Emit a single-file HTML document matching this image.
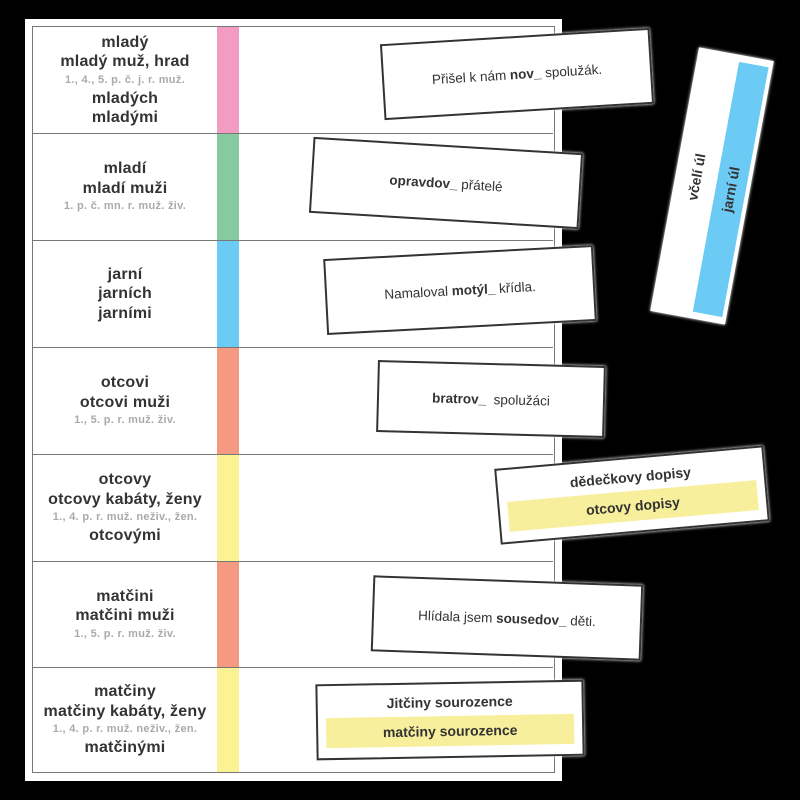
<!DOCTYPE html>
<html><head><meta charset="utf-8"><style>
body{margin:0;width:800px;height:800px;background:#000;position:relative;overflow:hidden;font-family:"Liberation Sans",Arial,sans-serif;}
.outer{position:absolute;left:25px;top:19px;width:537px;height:762px;background:#fff;}
.inner{position:absolute;left:32px;top:26px;width:523px;height:747px;border:1.5px solid #777;box-sizing:border-box;background:#fff;}
.row{position:absolute;left:0;width:520px;border-bottom:1.5px solid #777;box-sizing:border-box;}
.lbl{position:absolute;left:0;width:184px;top:0;bottom:0;display:flex;flex-direction:column;justify-content:center;align-items:center;text-align:center;color:#333;}
.b{font-weight:bold;font-size:16px;line-height:19.5px;letter-spacing:.2px}
.s{font-weight:bold;font-size:11px;line-height:17px;color:#aaa;letter-spacing:.3px}
.strip{position:absolute;left:184px;top:0;bottom:0;width:22px;}
.card{position:absolute;background:#fff;border:2px solid #333;box-sizing:border-box;display:flex;align-items:center;justify-content:center;font-size:13.5px;color:#333;box-shadow:0 0 3px #fff;}
.card b{font-weight:bold}
.two{flex-direction:column;}
.two .t{font-weight:bold;font-size:14px;margin-bottom:6px}
.two .y{background:#f8ef9c;width:calc(100% - 16px);height:30px;display:flex;align-items:center;justify-content:center;font-weight:bold;font-size:14px}
</style></head><body>
<div class="outer"></div>
<div class="inner">
 <div class="row" style="top:0;height:107px"><div class="lbl"><div class="b">mladý</div><div class="b">mladý muž, hrad</div><div class="s">1., 4., 5. p. č. j. r. muž.</div><div class="b">mladých</div><div class="b">mladými</div></div><div class="strip" style="background:#f29bc3"></div></div>
 <div class="row" style="top:107px;height:107px"><div class="lbl"><div class="b">mladí</div><div class="b">mladí muži</div><div class="s">1. p. č. mn. r. muž. živ.</div></div><div class="strip" style="background:#86cba0"></div></div>
 <div class="row" style="top:214px;height:107px"><div class="lbl"><div class="b">jarní</div><div class="b">jarních</div><div class="b">jarními</div></div><div class="strip" style="background:#6ccbf4"></div></div>
 <div class="row" style="top:321px;height:107px"><div class="lbl"><div class="b">otcovi</div><div class="b">otcovi muži</div><div class="s">1., 5. p. r. muž. živ.</div></div><div class="strip" style="background:#f59a80"></div></div>
 <div class="row" style="top:428px;height:107px"><div class="lbl"><div class="b">otcovy</div><div class="b">otcovy kabáty, ženy</div><div class="s">1., 4. p. r. muž. neživ., žen.</div><div class="b">otcovými</div></div><div class="strip" style="background:#fbf393"></div></div>
 <div class="row" style="top:535px;height:106px"><div class="lbl"><div class="b">matčini</div><div class="b">matčini muži</div><div class="s">1., 5. p. r. muž. živ.</div></div><div class="strip" style="background:#f59a80"></div></div>
 <div class="row" style="top:641px;height:104px;border-bottom:none"><div class="lbl"><div class="b">matčiny</div><div class="b">matčiny kabáty, ženy</div><div class="s">1., 4. p. r. muž. neživ., žen.</div><div class="b">matčinými</div></div><div class="strip" style="background:#fbf393"></div></div>
</div>

<div class="card" style="left:382px;top:36px;width:270px;height:76px;transform:rotate(-3.5deg)">Přišel k nám&nbsp;<b>nov_</b>&nbsp;spolužák.</div>
<div class="card" style="left:311px;top:145px;width:270px;height:76px;transform:rotate(3.5deg)"><b>opravdov_</b>&nbsp;přátelé</div>
<div class="card" style="left:325px;top:252px;width:270px;height:76px;transform:rotate(-3deg)">Namaloval&nbsp;<b>motýl_</b>&nbsp;křídla.</div>
<div class="card" style="left:377px;top:363px;width:228px;height:72px;transform:rotate(1.5deg)"><b>bratrov_</b>&nbsp; spolužáci</div>
<div class="card two" style="left:497px;top:457px;width:270px;height:76px;transform:rotate(-5deg)"><div class="t">dědečkovy dopisy</div><div class="y">otcovy dopisy</div></div>
<div class="card" style="left:372px;top:580px;width:270px;height:76px;transform:rotate(2deg)">Hlídala jsem&nbsp;<b>sousedov_</b>&nbsp;děti.</div>
<div class="card two" style="left:316px;top:682px;width:268px;height:76px;transform:rotate(-1deg)"><div class="t">Jitčiny sourozence</div><div class="y">matčiny sourozence</div></div>

<div style="position:absolute;left:674px;top:52px;width:76px;height:268px;background:#fff;transform:rotate(10.5deg);box-shadow:0 0 3px #fff;">
 <div style="position:absolute;left:42px;top:7px;width:30px;height:254px;background:#6ccbf4"></div>
 <div style="position:absolute;left:38px;top:134px;width:0;height:0;">
  <div style="position:absolute;transform:translate(-50%,-50%) rotate(-90deg);white-space:nowrap;font-weight:bold;font-size:14px;color:#333;left:-17px;top:-6px">včelí úl</div>
  <div style="position:absolute;transform:translate(-50%,-50%) rotate(-90deg);white-space:nowrap;font-weight:bold;font-size:14px;color:#333;left:19px;top:0">jarní úl</div>
 </div>
</div>
</body></html>
